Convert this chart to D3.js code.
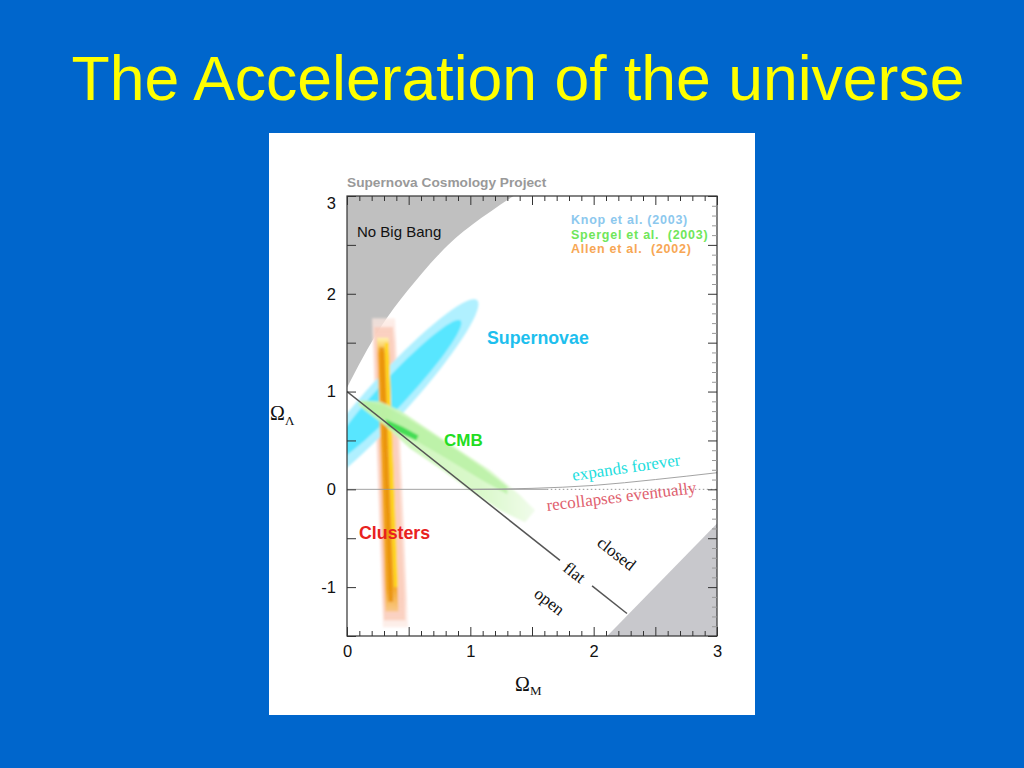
<!DOCTYPE html>
<html><head><meta charset="utf-8">
<script src="https://cdn.jsdelivr.net/npm/d3@7"></script>
<style>
html,body{margin:0;padding:0;background:#0066cc;}
svg{display:block}
</style></head>
<body><svg id="c" width="1024" height="768"></svg>
<script>
// ---------------- data ----------------
const titleText = "The Acceleration of the universe";
const headerText = "Supernova Cosmology Project";
const xDomain = [0, 3];
const yDomain = [-1.5, 3];
const xTickLabels = [0, 1, 2, 3];
const yTickLabels = [-1, 0, 1, 2, 3];
const legendLabels = ["Knop et al. (2003)", "Spergel et al.  (2003)", "Allen et al.  (2002)"];

// No Big Bang boundary (Omega_M, Omega_Lambda)
const noBigBangBoundary = [[0, 1.04], [0.13, 1.35], [0.29, 1.69], [0.49, 2.03], [0.75, 2.41], [1.02, 2.71], [1.35, 3.0]];
// lower-right shaded region
const lowerRightRegion = [[2.11, -1.5], [3, -0.35], [3, -1.5]];
// flat universe line (with gap for label)
const flatLinePieces = [[[0, 1], [1.727, -0.727]], [[1.987, -0.987], [2.27, -1.27]]];
// expands forever / recollapses boundary
const expansionBoundary = [[1, 0], [1.5, 0.01], [2, 0.04], [2.5, 0.10], [3, 0.17]];
const zeroLineSolid = [[0, 0], [1.62, 0]];
const zeroLineDotted = [[1.62, 0], [3, 0]];

// Supernovae confidence ellipses: centre, half-major vector, half-minor vector
const snCentersM = [0.34, 0.381];
const snCentersL = [0.944, 0.995];
const snMajor = [[0.715, 0.991], [0.540, 0.731]];
const snMinor = [[0.126, -0.145], [0.083, -0.098]];

// Clusters bands (Ω_M, Ω_Λ corners)
const clusterOuter  = [[0.203, 1.75], [0.389, 1.75], [0.495, -1.41], [0.292, -1.41]];
const clusterMid    = [[0.220, 1.66], [0.372, 1.66], [0.472, -1.34], [0.300, -1.34]];
const clusterOrange = [[0.243, 1.55], [0.337, 1.55], [0.417, -1.25], [0.313, -1.25]];
const clusterYellow = [[0.305, 1.50], [0.339, 1.50], [0.414, -1.0], [0.380, -1.0]];
const clusterCore   = [[0.262, 1.45], [0.300, 1.45], [0.374, -1.15], [0.336, -1.15]];

// CMB contours
const cmbOuter = [[0.105, 0.908], [0.268, 0.898], [0.43, 0.806], [0.673, 0.602], [0.916, 0.398], [1.16, 0.194], [1.403, -0.06], [1.525, -0.214],
                  [1.444, -0.337], [1.24, -0.214], [0.998, -0.01], [0.754, 0.214], [0.511, 0.418], [0.308, 0.653], [0.146, 0.806], [0.089, 0.867]];
const cmbMid = [[0.12, 0.905], [0.3, 0.86], [0.5, 0.72], [0.8, 0.48], [1.1, 0.22], [1.3, 0.03], [1.3, -0.05], [1.1, 0.09], [0.8, 0.32], [0.5, 0.54], [0.3, 0.69], [0.14, 0.84]];
const cmbInner = [[0.31, 0.72], [0.45, 0.64], [0.58, 0.55], [0.56, 0.50], [0.42, 0.58], [0.33, 0.65]];

// ---------------- drawing ----------------
const svg = d3.select("#c");
const W = 1024, H = 768;
svg.append("rect").attr("width", W).attr("height", H).attr("fill", "#0066cc");
svg.append("text").attr("x", 518).attr("y", 100).attr("text-anchor", "middle")
  .attr("font-family", "Liberation Sans, Arial, sans-serif").attr("font-size", 62.5)
  .attr("fill", "#ffff00").text(titleText);

// white panel
svg.append("rect").attr("x", 269).attr("y", 133).attr("width", 486).attr("height", 582).attr("fill", "#ffffff");

const x = d3.scaleLinear().domain(xDomain).range([347, 717]);
const y = d3.scaleLinear().domain(yDomain).range([636, 196]);

const defs = svg.append("defs");
defs.append("clipPath").attr("id", "plotclip").append("rect")
  .attr("x", x(0)).attr("y", y(3)).attr("width", x(3) - x(0)).attr("height", y(-1.5) - y(3));
defs.append("filter").attr("id", "soft").attr("x", "-10%").attr("y", "-10%").attr("width", "120%").attr("height", "120%")
  .append("feGaussianBlur").attr("stdDeviation", 0.8);
const gOut = defs.append("linearGradient").attr("id", "clOuterGrad").attr("x1", 0).attr("y1", 0).attr("x2", 0).attr("y2", 1);
gOut.append("stop").attr("offset", "0%").attr("stop-color", "#fde9e2").attr("stop-opacity", 0.7);
gOut.append("stop").attr("offset", "8%").attr("stop-color", "#fde0d6");
gOut.append("stop").attr("offset", "90%").attr("stop-color", "#fde0d6");
gOut.append("stop").attr("offset", "100%").attr("stop-color", "#fde9e2").attr("stop-opacity", 0.7);
const gOr = defs.append("linearGradient").attr("id", "clOrGrad").attr("x1", 0).attr("y1", 0).attr("x2", 0).attr("y2", 1);
gOr.append("stop").attr("offset", "0%").attr("stop-color", "#fff4b0");
gOr.append("stop").attr("offset", "6%").attr("stop-color", "#f6aa22");
gOr.append("stop").attr("offset", "92%").attr("stop-color", "#f5ac30");
gOr.append("stop").attr("offset", "100%").attr("stop-color", "#f9c88a");
const gC = defs.append("linearGradient").attr("id", "cmbGrad").attr("x1", 0).attr("y1", 0).attr("x2", 1).attr("y2", 0);
gC.append("stop").attr("offset", "0%").attr("stop-color", "#c8f5b4");
gC.append("stop").attr("offset", "70%").attr("stop-color", "#d8f8c8");
gC.append("stop").attr("offset", "100%").attr("stop-color", "#f0fbea");

const plot = svg.append("g").attr("clip-path", "url(#plotclip)");
const line = d3.line().x(d => x(d[0])).y(d => y(d[1]));
const poly = pts => line(pts) + "Z";

// No Big Bang region (curved boundary)
const curveLine = d3.line().x(d => x(d[0])).y(d => y(d[1])).curve(d3.curveNatural);
const nbbPath = `M${x(0)},${y(3)}L` + curveLine(noBigBangBoundary).slice(1) + "Z";
plot.append("path").attr("d", nbbPath).attr("fill", "#c0c0c0");
// lower right region
plot.append("path").attr("d", poly(lowerRightRegion)).attr("fill", "#c8c8cc");

const soft = plot.append("g").attr("filter", "url(#soft)");
// clusters outer layers
soft.append("path").attr("d", poly(clusterOuter)).attr("fill", "url(#clOuterGrad)");
soft.append("path").attr("d", poly(clusterMid)).attr("fill", "#fac8b4").attr("opacity", 0.7);

// supernovae ellipses
const ellipse = i => {
  const pts = d3.range(0, 73).map(k => {
    const t = k / 72 * 2 * Math.PI;
    return [snCentersM[i] + snMajor[i][0] * Math.cos(t) + snMinor[i][0] * Math.sin(t),
            snCentersL[i] + snMajor[i][1] * Math.cos(t) + snMinor[i][1] * Math.sin(t)];
  });
  return poly(pts);
};
soft.append("path").attr("d", ellipse(0)).attr("fill", "#b0f0ff");
soft.append("path").attr("d", ellipse(1)).attr("fill", "#58e6ff");

// clusters inner layers
soft.append("path").attr("d", poly(clusterOrange)).attr("fill", "url(#clOrGrad)");
soft.append("path").attr("d", poly(clusterYellow)).attr("fill", "#ffd820").attr("opacity", 0.9);
soft.append("path").attr("d", poly(clusterCore)).attr("fill", "#e8900c").attr("opacity", 0.85);

// CMB
soft.append("path").attr("d", poly(cmbOuter)).attr("fill", "url(#cmbGrad)").attr("opacity", 0.95);
soft.append("path").attr("d", poly(cmbMid)).attr("fill", "#b6f0a0").attr("opacity", 0.75);
soft.append("path").attr("d", poly(cmbInner)).attr("fill", "#44dd55");

// lines
plot.append("path").attr("d", line(zeroLineSolid)).attr("stroke", "#999").attr("stroke-width", 0.9).attr("fill", "none");
plot.append("path").attr("d", line(zeroLineDotted)).attr("stroke", "#888").attr("stroke-width", 0.9)
  .attr("stroke-dasharray", "1.5,2.5").attr("fill", "none");
plot.append("path").attr("d", d3.line().x(d => x(d[0])).y(d => y(d[1])).curve(d3.curveMonotoneX)(expansionBoundary))
  .attr("stroke", "#999").attr("stroke-width", 0.9).attr("fill", "none");
flatLinePieces.forEach(seg => {
  plot.append("path").attr("d", line(seg)).attr("stroke", "#555").attr("stroke-width", 1.5).attr("fill", "none");
});

// frame
svg.append("rect").attr("x", x(0)).attr("y", y(3)).attr("width", x(3) - x(0)).attr("height", y(-1.5) - y(3))
  .attr("fill", "none").attr("stroke", "#333").attr("stroke-width", 1.2);

// axes
const isHalf = d => Math.abs(d * 2 - Math.round(d * 2)) < 1e-9;
const xTicks = d3.range(0, 31).map(i => i / 10);
const yMajor = d3.range(-3, 7).map(i => i / 2);
const yAll = d3.range(-15, 31).map(i => i / 10);
const fmtX = d => xTickLabels.some(v => Math.abs(v - d) < 1e-9) ? String(Math.round(d)) : "";
const fmtY = d => yTickLabels.some(v => Math.abs(v - d) < 1e-9) ? String(Math.round(d)) : "";

function styleAxis(g, sign, attr) {
  g.select(".domain").remove();
  g.selectAll(".tick line").attr(attr, d => sign * (isHalf(d) ? 9 : 5)).attr("stroke", "#333").attr("stroke-width", 1);
  g.selectAll(".tick text").attr("font-family", "Liberation Sans, Arial, sans-serif").attr("font-size", 16.5).attr("fill", "#111");
}
const gb = svg.append("g").attr("transform", `translate(0,${y(-1.5)})`)
  .call(d3.axisBottom(x).tickValues(xTicks).tickFormat(fmtX).tickSize(-5).tickPadding(9));
styleAxis(gb, -1, "y2");
const gt = svg.append("g").attr("transform", `translate(0,${y(3)})`)
  .call(d3.axisTop(x).tickValues(xTicks).tickFormat(() => "").tickSize(-5));
styleAxis(gt, 1, "y2");
const gl = svg.append("g").attr("transform", `translate(${x(0)},0)`)
  .call(d3.axisLeft(y).tickValues(yMajor).tickFormat(fmtY).tickSize(-9).tickPadding(11));
styleAxis(gl, 1, "x2");
gl.selectAll(".tick text").filter(d => d === 3).attr("dy", "0.75em");
const gr = svg.append("g").attr("transform", `translate(${x(3)},0)`)
  .call(d3.axisRight(y).tickValues(yAll).tickFormat(() => "").tickSize(-5));
styleAxis(gr, -1, "x2");
gr.selectAll(".tick line").attr("stroke", d => isHalf(d) ? "#333" : "#999");

// axis titles
const omegaL = svg.append("text").attr("x", 270).attr("y", 420)
  .attr("font-family", "Liberation Serif, Times New Roman, serif").attr("fill", "#111");
omegaL.append("tspan").attr("font-size", 20).text("Ω");
omegaL.append("tspan").attr("font-size", 13).attr("dy", 5).text("Λ");
const omegaM = svg.append("text").attr("x", 515).attr("y", 691)
  .attr("font-family", "Liberation Serif, Times New Roman, serif").attr("fill", "#111");
omegaM.append("tspan").attr("font-size", 20).text("Ω");
omegaM.append("tspan").attr("font-size", 13).attr("dy", 4).text("M");

// header & labels
const sans = "Liberation Sans, Arial, Helvetica, sans-serif";
svg.append("text").attr("x", 347).attr("y", 187).attr("font-family", sans).attr("font-weight", "bold")
  .attr("font-size", 13.7).attr("fill", "#999").text(headerText);
svg.append("text").attr("x", 357).attr("y", 237).attr("font-family", sans).attr("font-size", 15)
  .attr("fill", "#111").text("No Big Bang");
const legendColors = ["#8cc8ee", "#6fe65a", "#f7a755"];
legendLabels.forEach((t, i) => {
  svg.append("text").attr("x", 571).attr("y", 224 + i * 14.5).attr("font-family", sans).attr("font-weight", "bold")
    .attr("font-size", 12.5).attr("letter-spacing", 0.75).attr("fill", legendColors[i])
    .attr("xml:space", "preserve").text(t);
});
svg.append("text").attr("x", 487).attr("y", 344).attr("font-family", sans).attr("font-weight", "bold")
  .attr("font-size", 17.8).attr("fill", "#1ebfee").text("Supernovae");
svg.append("text").attr("x", 444).attr("y", 446).attr("font-family", sans).attr("font-weight", "bold")
  .attr("font-size", 17).attr("fill", "#22dd22").text("CMB");
svg.append("text").attr("x", 359).attr("y", 539).attr("font-family", sans).attr("font-weight", "bold")
  .attr("font-size", 17.8).attr("fill", "#e8221e").text("Clusters");

const serif = "Liberation Serif, Times New Roman, serif";
function rotLabel(txt, cx, cy, ang, color) {
  svg.append("text").attr("transform", `translate(${cx},${cy}) rotate(${ang})`)
    .attr("text-anchor", "middle").attr("font-family", serif).attr("font-size", 17)
    .attr("fill", color).text(txt);
}
rotLabel("expands forever", 627, 473, -8.3, "#22dddd");
rotLabel("recollapses eventually", 622, 502, -6.8, "#e0606e");
rotLabel("closed", 613, 558, 38, "#111");
rotLabel("flat", 571, 577, 38, "#111");
rotLabel("open", 546, 606, 38, "#111");
</script>
</body></html>
